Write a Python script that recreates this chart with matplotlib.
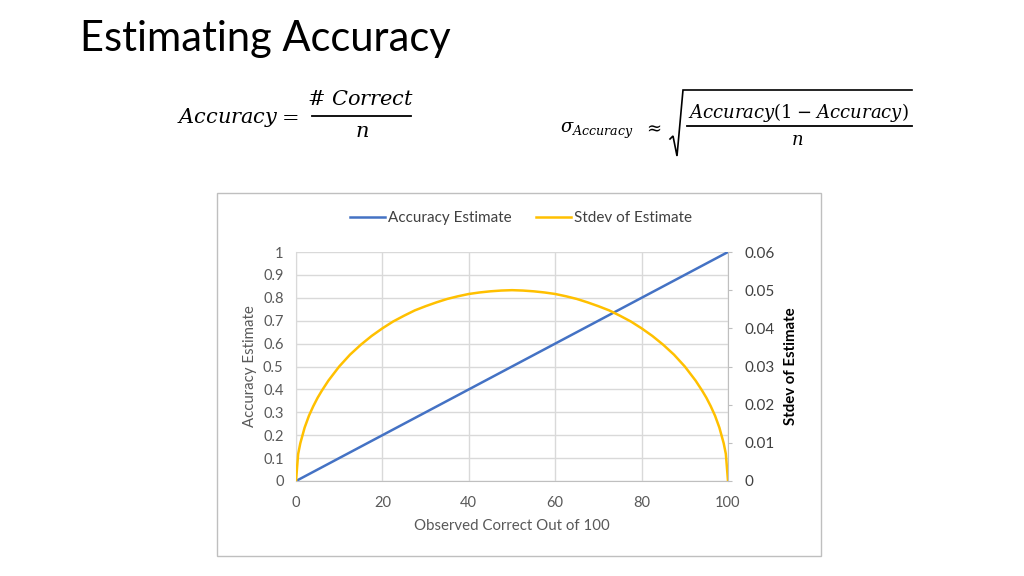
import matplotlib
matplotlib.use("Agg")
import matplotlib.pyplot as plt
from matplotlib.patches import Rectangle
from matplotlib.lines import Line2D

plt.rcParams['font.family'] = ['Lato', 'DejaVu Sans']
plt.rcParams['mathtext.fontset'] = 'dejavuserif'

# values
observed = [0, 0.5, 1, 2, 3, 4, 5, 6, 7.5, 10, 12.5, 15, 17.5, 20, 22.5, 25, 27.5, 30, 32.5, 35,
            37.5, 40, 42.5, 45, 47.5, 50, 52.5, 55, 57.5, 60, 62.5, 65, 67.5, 70, 72.5, 75,
            77.5, 80, 82.5, 85, 87.5, 90, 92.5, 94, 95, 96, 97, 98, 99, 99.5, 100]
stdev = [0, 0.0071, 0.0099, 0.0140, 0.0171, 0.0196, 0.0218, 0.0237, 0.0263, 0.0300, 0.0331, 0.0357,
         0.0380, 0.0400, 0.0418, 0.0433, 0.0447, 0.0458, 0.0468, 0.0477, 0.0484, 0.0490, 0.0494,
         0.0497, 0.0499, 0.0500, 0.0499, 0.0497, 0.0494, 0.0490, 0.0484, 0.0477, 0.0468, 0.0458,
         0.0447, 0.0433, 0.0418, 0.0400, 0.0380, 0.0357, 0.0331, 0.0300, 0.0263, 0.0237, 0.0218,
         0.0196, 0.0171, 0.0140, 0.0099, 0.0071, 0]
acc_x = [0, 50, 100]
accuracy = [0, 0.5, 1.0]

x_ticks = [0, 20, 40, 60, 80, 100]
left_ticks = [0, 0.1, 0.2, 0.3, 0.4, 0.5, 0.6, 0.7, 0.8, 0.9, 1]
right_ticks = [0, 0.01, 0.02, 0.03, 0.04, 0.05, 0.06]

blue = '#4472C4'
gold = '#FFC000'
gray_txt = '#595959'

W, H = 1024, 576
fig = plt.figure(figsize=(10.24, 5.76), dpi=100)


def px(x, y):
    # slide pixel -> figure fraction
    return x / W, 1 - y / H


def hline(x0, x1, y, lw=1.3):
    fig.add_artist(Line2D([x0 / W, x1 / W], [1 - y / H, 1 - y / H], color='black', lw=lw,
                          transform=fig.transFigure))


# slide title
fig.text(*px(80, 51), "Estimating Accuracy", fontsize=30, color='#000000',
         va='baseline', ha='left')

# formula 1
fig.text(*px(177, 123), r"$Accuracy$", fontsize=15, va='baseline', ha='left')
fig.text(*px(289, 116), r"$=$", fontsize=15, va='center', ha='center')
fig.text(*px(361, 105), r"$\#\ Correct$", fontsize=15, va='baseline', ha='center')
hline(312, 411, 116)
fig.text(*px(362, 137), r"$n$", fontsize=15, va='baseline', ha='center')

# formula 2
mfs = 13
fig.text(*px(560, 133), r"$\sigma_{Accuracy}$", fontsize=mfs, va='baseline', ha='left')
fig.text(*px(652, 127), r"$\approx$", fontsize=mfs, va='center', ha='center')
fig.add_artist(Line2D([670 / W, 673 / W, 677 / W, 683 / W, 912 / W],
                      [1 - 139 / H, 1 - 136 / H, 1 - 156 / H, 1 - 90 / H, 1 - 90 / H],
                      color='black', lw=1.2, transform=fig.transFigure, solid_joinstyle='miter'))
fig.text(*px(798, 118), r"$Accuracy(1\;{-}\;Accuracy)$", fontsize=mfs, va='baseline', ha='center')
hline(687, 912, 126)
fig.text(*px(797, 145), r"$n$", fontsize=mfs, va='baseline', ha='center')

# chart frame
fig.add_artist(Rectangle((217 / W, 1 - 556 / H), (821 - 217) / W, (556 - 193) / H,
                         transform=fig.transFigure, fill=False,
                         edgecolor='#BFBFBF', linewidth=1))

ax = fig.add_axes([296 / W, 1 - 481 / H, (728 - 296) / W, (481 - 252) / H])
ax.plot(acc_x, accuracy, color=blue, lw=1.8, solid_capstyle='round')
ax.set_xlim(0, 100)
ax.set_ylim(0, 1)
ax.set_xticks(x_ticks)
ax.set_yticks(left_ticks)
ax.set_yticklabels([f"{v:g}" for v in left_ticks])
ax.grid(True, color='#D9D9D9', lw=1)
ax.set_axisbelow(True)
for s in ['top', 'right']:
    ax.spines[s].set_visible(False)
ax.spines['left'].set_color('#D9D9D9')
ax.spines['bottom'].set_color('#BFBFBF')
ax.tick_params(axis='both', length=0, labelsize=10.5, labelcolor=gray_txt)
ax.tick_params(axis='y', pad=9)
ax.tick_params(axis='x', pad=11)
ax.set_ylabel("Accuracy Estimate", fontsize=10.8, color=gray_txt)
ax.yaxis.set_label_coords(-0.09, 0.5)
ax.set_xlabel("Observed Correct Out of 100", fontsize=10.8, color=gray_txt)
ax.xaxis.set_label_coords(0.5, -0.165)

ax2 = ax.twinx()
ax2.plot(observed, stdev, color=gold, lw=1.8)
ax2.set_ylim(0, 0.06)
ax2.set_yticks(right_ticks)
ax2.set_yticklabels([f"{v:g}" for v in right_ticks])
for s in ['top', 'left', 'bottom']:
    ax2.spines[s].set_visible(False)
ax2.spines['right'].set_color('#BFBFBF')
ax2.tick_params(axis='y', length=3, direction='out', color='#BFBFBF', pad=9,
                labelsize=11, labelcolor='#404040')
ax2.set_ylabel("Stdev of Estimate", fontsize=10.8, fontweight='bold', color='#000000')
ax2.yaxis.set_label_coords(1.13, 0.5)

handles = [Line2D([], [], color=blue, lw=1.8), Line2D([], [], color=gold, lw=1.8)]
fig.legend(handles, ["Accuracy Estimate", "Stdev of Estimate"], loc='center',
           bbox_to_anchor=(521 / W, 1 - 218 / H), ncol=2, frameon=False, fontsize=11,
           handlelength=2.3, handletextpad=0.2, columnspacing=1.6, labelcolor='#404040')

fig.savefig("out.png", dpi=100)
